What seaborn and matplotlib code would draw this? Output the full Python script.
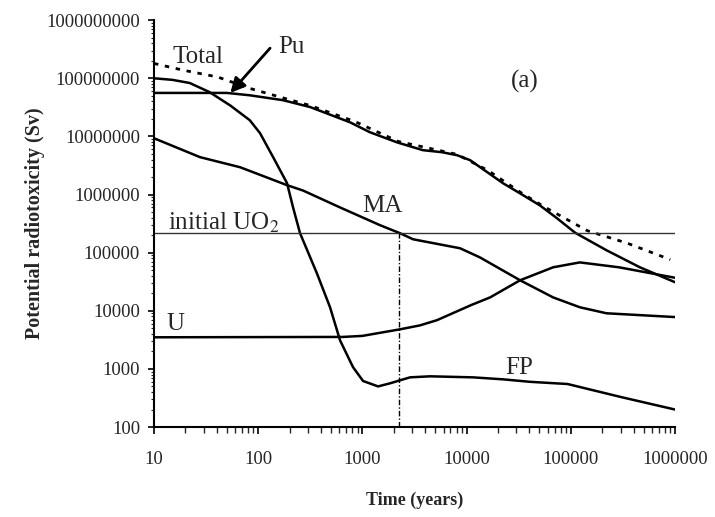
import numpy as np
import pandas as pd
import matplotlib
matplotlib.use("Agg")
import matplotlib.pyplot as plt
import seaborn as sns

# ---- data (years, Sv) ----
fp_t = [10, 15, 22, 34, 54, 83, 104, 139, 189, 216, 252, 366, 489, 610, 813,
        1014, 1413, 1840, 2296, 2864, 4457, 11500, 22300, 40500, 93000,
        310000, 1000000]
fp_v = [1.0e8, 9.4e7, 8.3e7, 5.8e7, 3.4e7, 1.9e7, 1.14e7, 4.4e6, 1.57e6, 6.0e5,
        2.16e5, 4.4e4, 1.15e4, 3100, 1070, 620, 500, 565, 637, 716, 746, 716,
        662, 600, 550, 325, 200]

pu_t = [10, 50, 83, 173, 315, 760, 1180, 2150, 3800, 5800, 8100, 10800, 22300,
        34000, 50500, 73800, 110000, 220000, 460000, 1000000]
pu_v = [5.6e7, 5.6e7, 5.1e7, 4.2e7, 3.2e7, 1.75e7, 1.18e7, 7.9e6, 5.8e6, 5.35e6,
        4.75e6, 3.9e6, 1.57e6, 1.0e6, 6.5e5, 3.9e5, 2.2e5, 1.1e5, 5.6e4, 3.1e4]

tot_t = [10, 19, 41, 83, 173, 315, 850, 2200, 5800, 8100, 16000, 34000, 56000,
         143000, 350000, 900000]
tot_v = [1.8e8, 1.38e8, 1.05e8, 6.7e7, 4.6e7, 3.4e7, 1.8e7, 8.2e6, 5.6e6, 4.9e6,
         2.6e6, 1.05e6, 6.1e5, 2.4e5, 1.45e5, 7.6e4]

ma_t = [10, 27.6, 67, 189, 270, 610, 1475, 2296, 3060, 8650, 13400, 32600,
        67600, 122000, 220000, 1000000]
ma_v = [9.3e6, 4.4e6, 2.95e6, 1.45e6, 1.17e6, 6.0e5, 2.97e5, 2.16e5, 1.7e5,
        1.19e5, 8.3e4, 3.35e4, 1.7e4, 1.15e4, 9060, 7800]

u_t = [10, 650, 1000, 2296, 3550, 5200, 11000, 16800, 32600, 67600, 122000,
       290000, 1000000]
u_v = [3500, 3550, 3700, 4800, 5600, 6900, 12500, 17000, 33500, 56000, 68000,
       56000, 37000]

uo2_level = 2.2e5
cut_time = 2250

x_ticks = [10, 100, 1000, 10000, 100000, 1000000]
x_labels = ["10", "100", "1000", "10000", "100000", "1000000"]
y_ticks = [100, 1000, 10000, 100000, 1000000, 10000000, 100000000, 1000000000]
y_labels = ["100", "1000", "10000", "100000", "1000000", "10000000",
            "100000000", "1000000000"]

# ---- style ----
sns.set_style("ticks")
plt.rcParams["font.family"] = ["Liberation Serif", "DejaVu Serif"]
plt.rcParams["mathtext.fontset"] = "stix"

fig = plt.figure(figsize=(7.15, 5.17), dpi=100)
ax = fig.add_axes([0.2154, 0.174, 0.7287, 0.787])
ax.set_xscale("log")
ax.set_yscale("log")

def draw(t, v, **kw):
    df = pd.DataFrame({"t": t, "v": v})
    sns.lineplot(data=df, x="t", y="v", ax=ax, color="black", sort=False,
                 estimator=None, **kw)

draw(fp_t, fp_v, lw=1.8)
draw(pu_t, pu_v, lw=1.8)
draw(ma_t, ma_v, lw=1.8)
draw(u_t, u_v, lw=1.8)
draw(tot_t, tot_v, lw=2.0, linestyle=(0, (1.6, 2.4)))

ax.axhline(uo2_level, color="#333333", lw=1.0)
ax.plot([cut_time, cut_time], [100, uo2_level], color="black", lw=1.0,
        linestyle=(0, (4, 1.5, 1, 1.5)))

ax.set_xlim(10, 1e6)
ax.set_ylim(100, 1e9)
ax.set_xticks(x_ticks)
ax.set_xticklabels(x_labels)
ax.set_yticks(y_ticks)
ax.set_yticklabels(y_labels)
ax.tick_params(axis="both", which="major", labelsize=13.5, direction="out",
               color="black", width=1.2)
ax.tick_params(axis="x", which="major", length=5, pad=12)
ax.tick_params(axis="x", which="minor", length=4, width=1.0, direction="out")
ax.tick_params(axis="y", which="major", length=4, pad=6)
ax.tick_params(axis="y", which="minor", length=2.5, width=0.8, direction="out")

sns.despine(ax=ax)
for s in ("left", "bottom"):
    ax.spines[s].set_linewidth(1.5)
    ax.spines[s].set_color("black")

ax.set_xlabel("Time (years)", fontsize=13, fontweight="bold", labelpad=17)
ax.set_ylabel("Potential radiotoxicity (Sv)", fontsize=14.5, fontweight="bold",
              labelpad=1)

fs = 18
ax.text(15.2, 1.85e8, "Total", fontsize=fs, ha="left", va="baseline")
ax.text(155, 2.7e8, "Pu", fontsize=fs, ha="left", va="baseline")
ax.annotate("", xy=(54, 5.6e7), xytext=(130, 3.3e8),
            arrowprops=dict(arrowstyle="-|>", color="black", lw=2.0,
                            mutation_scale=22, shrinkA=0, shrinkB=0))
ax.text(26600, 6.8e7, "(a)", fontsize=fs, ha="left", va="baseline")
ax.text(990, 5.0e5, "MA", fontsize=fs, ha="left", va="baseline")
ax.text(13.6, 2.5e5, "initial UO$_2$", fontsize=fs, ha="left", va="baseline")
ax.text(13.3, 4600, "U", fontsize=fs, ha="left", va="baseline")
ax.text(23500, 830, "FP", fontsize=fs, ha="left", va="baseline")

fig.savefig("out.png", dpi=100, facecolor="white")
